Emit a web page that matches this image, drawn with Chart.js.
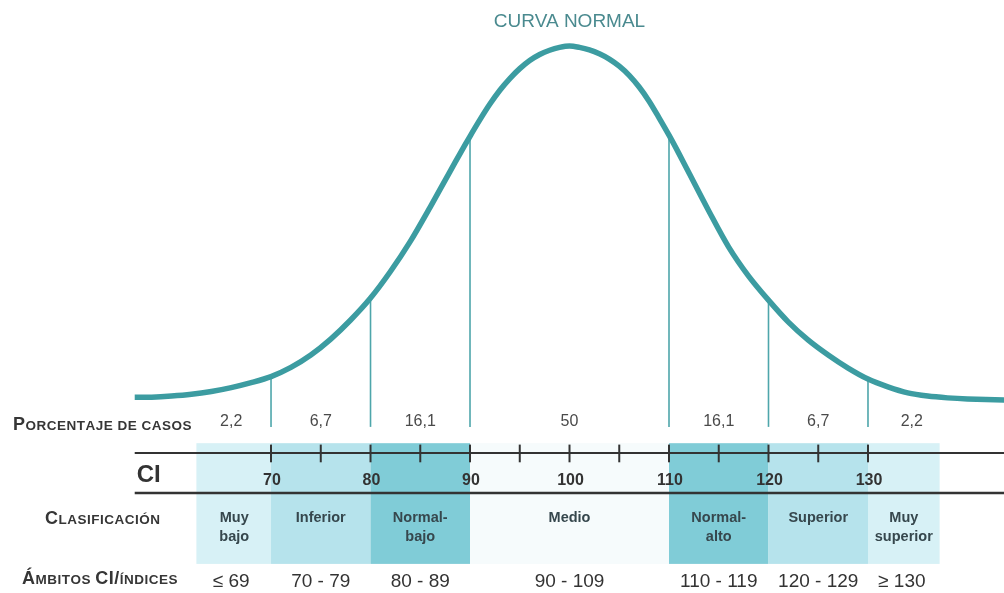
<!DOCTYPE html>
<html>
<head>
<meta charset="utf-8">
<script src="https://cdn.jsdelivr.net/npm/chart.js@4/dist/chart.umd.min.js"></script>
<style>
  html,body{margin:0;padding:0;background:#fff;}
  #wrap{width:1004px;height:593px;position:relative;}
</style>
</head>
<body>
<div id="wrap"><canvas id="c" width="1004" height="593"></canvas></div>
<script>
// ---- data ----
const curveCI = [56.3,58,60,62,64,66,68,70,72,74,76,78,80,82,84,86,88,89,90,91,92,93,94,95,96,97,98,99,100,101,102,103,104,105,106,107,108,109,110,111,112,114,116,118,120,122,124,126,128,130,132,134,136,138,140,143.7];
const curveHeight = [0.8,0.8,1.1,1.6,2.4,3.5,4.9,6.6,9.2,12.7,17.2,22.6,28.8,36.3,44.8,54.5,64.6,69.6,74.5,79.2,83.6,87.5,90.8,93.6,95.9,97.6,98.8,99.6,100,99.6,98.9,97.8,96.3,94.3,91.7,88.4,84.4,79.7,74.8,69.6,64.2,53.4,43.2,35.0,28.2,22.0,16.9,12.7,9.0,5.9,3.7,2.0,1.1,0.6,0.3,0];
const cutPoints = [70,80,90,110,120,130];
const axisTicks = [70,75,80,85,90,95,100,105,110,115,120,125,130];
const tickLabels = ['70','80','90','100','110','120','130'];
const tickLabelValues = [70,80,90,100,110,120,130];
const percentLabels = ['2,2','6,7','16,1','50','16,1','6,7','2,2'];
const percentCenters = [66,75,85,100,115,125,134.4];
const classLabels = [['Muy','bajo'],['Inferior'],['Normal-','bajo'],['Medio'],['Normal-','alto'],['Superior'],['Muy','superior']];
const classCenters = [66.3,75,85,100,115,125,133.6];
const rangeLabels = ['\u2264 69','70 - 79','80 - 89','90 - 109','110 - 119','120 - 129','\u2265 130'];
const rangeCenters = [66,75,85,100,115,125,133.4];
const bandStart = [62.5,70,80,90,110,120,130];
const bandEnd = [70,80,90,110,120,130,137.2];
const rowTitles = ['Porcentaje de casos','Clasificación','Ámbitos CI/índices'];
const chartTitle = 'CURVA NORMAL';
const axisName = 'CI';

// ---- styles / layout ----
const bandColors = ['#d7f1f6','#b6e3ec','#80ccd7','#f6fbfc','#80ccd7','#b6e3ec','#d7f1f6'];
const ROW = {sepBottom:-7.6, pct:-7.3, bandTop:-12.2, bandBottom:-46.3, axisTop:-15.0, tickTop:-12.6, tickBottom:-17.6,
             tickLabel:-24.0, axisBottom:-26.3, cls1:-34.4, cls2:-39.8, range:-52.8};
const teal = '#3c9ca1';
const dark = '#333333';

const tablePlugin = {
  id:'table',
  beforeDatasetsDraw(chart){
    const ctx = chart.ctx, xs = chart.scales.x, ys = chart.scales.y;
    const X = v => xs.getPixelForValue(v), Y = v => ys.getPixelForValue(v);
    ctx.save();
    bandStart.forEach((a,i)=>{
      ctx.fillStyle = bandColors[i];
      ctx.fillRect(X(a), Y(ROW.bandTop), X(bandEnd[i])-X(a), Y(ROW.bandBottom)-Y(ROW.bandTop));
    });
    ctx.strokeStyle = '#4ea6ab';
    ctx.lineWidth = 1.6;
    cutPoints.forEach(c=>{
      const h = curveHeight[curveCI.indexOf(c)];
      ctx.beginPath();
      ctx.moveTo(X(c), Y(h));
      ctx.lineTo(X(c), Y(ROW.sepBottom));
      ctx.stroke();
    });
    ctx.restore();
  },
  afterDatasetsDraw(chart){
    const ctx = chart.ctx, xs = chart.scales.x, ys = chart.scales.y;
    const X = v => xs.getPixelForValue(v), Y = v => ys.getPixelForValue(v);
    const right = chart.chartArea.right;
    ctx.save();
    ctx.fillStyle = '#4a8a8f';
    ctx.font = '19px "Liberation Sans", Arial, sans-serif';
    ctx.textAlign = 'center';
    ctx.textBaseline = 'alphabetic';
    ctx.fillText(chartTitle, X(100), 27);

    ctx.strokeStyle = dark;
    ctx.lineWidth = 2;
    ctx.beginPath(); ctx.moveTo(X(curveCI[0]), Y(ROW.axisTop)); ctx.lineTo(right, Y(ROW.axisTop)); ctx.stroke();
    ctx.lineWidth = 2.5;
    ctx.beginPath(); ctx.moveTo(X(curveCI[0]), Y(ROW.axisBottom)); ctx.lineTo(right, Y(ROW.axisBottom)); ctx.stroke();
    ctx.lineWidth = 2;
    axisTicks.forEach(t=>{
      ctx.beginPath(); ctx.moveTo(X(t), Y(ROW.tickTop)); ctx.lineTo(X(t), Y(ROW.tickBottom)); ctx.stroke();
    });
    ctx.fillStyle = dark;
    ctx.font = 'bold 16px "Liberation Sans", Arial, sans-serif';
    ctx.textAlign = 'center';
    tickLabels.forEach((l,i)=> ctx.fillText(l, X(tickLabelValues[i]) + 1, Y(ROW.tickLabel)));
    ctx.font = 'bold 24px "Liberation Sans", Arial, sans-serif';
    ctx.textAlign = 'left';
    ctx.fillText(axisName, X(curveCI[0]) + 2, 482);

    ctx.fillStyle = '#4a4a4a';
    ctx.font = '16px "Liberation Sans", Arial, sans-serif';
    ctx.textAlign = 'center';
    percentLabels.forEach((l,i)=> ctx.fillText(l, X(percentCenters[i]), Y(ROW.pct)));
    ctx.fillStyle = '#36474d';
    ctx.font = 'bold 14.5px "Liberation Sans", Arial, sans-serif';
    classLabels.forEach((lines,i)=>{
      lines.forEach((ln,j)=> ctx.fillText(ln, X(classCenters[i]), Y(j===0?ROW.cls1:ROW.cls2)));
    });
    ctx.fillStyle = '#333';
    ctx.font = '19px "Liberation Sans", Arial, sans-serif';
    rangeLabels.forEach((l,i)=> ctx.fillText(l, X(rangeCenters[i]), Y(ROW.range)));

    const drawSC = (text, x, y) => {
      ctx.textAlign = 'left';
      ctx.fillStyle = '#363636';
      ctx.letterSpacing = '0.5px';
      let cx = x;
      for (const ch of text){
        const isBig = ch !== ch.toLowerCase();
        const isLetter = ch.toLowerCase() !== ch.toUpperCase();
        const size = (isBig || ch === '/') ? 18 : 13.5;
        ctx.font = 'bold ' + size + 'px "Liberation Sans", Arial, sans-serif';
        const s = isLetter ? ch.toUpperCase() : ch;
        ctx.fillText(s, cx, y);
        cx += ctx.measureText(s).width;
      }
      ctx.letterSpacing = '0px';
    };
    drawSC(rowTitles[0], 13, 430);
    drawSC(rowTitles[1], 45, 524);
    drawSC(rowTitles[2], 22, 584);
    ctx.restore();
  }
};

new Chart(document.getElementById('c'), {
  type:'line',
  data:{
    datasets:[{
      data: curveCI.map((x,i)=>({x, y:curveHeight[i]})),
      borderColor: teal,
      borderWidth: 5.5,
      pointRadius: 0,
      fill: false,
      tension: 0.3,
      borderCapStyle: 'butt'
    }]
  },
  options:{
    responsive:false,
    animation:false,
    layout:{padding:0},
    events:[],
    plugins:{legend:{display:false}, tooltip:{enabled:false}, title:{display:false}},
    scales:{
      x:{type:'linear', min:42.76, max:143.67, display:false},
      y:{type:'linear', min:-54.52, max:112.99, display:false}
    }
  },
  plugins:[tablePlugin]
});
</script>
</body>
</html>
